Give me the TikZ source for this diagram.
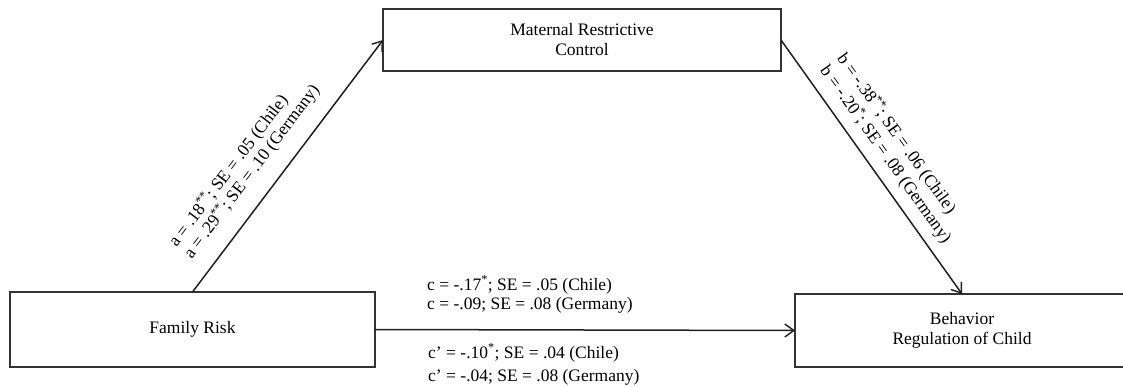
\documentclass[tikz,border=0pt]{standalone}
\usepackage{fontspec}
\setmainfont{Liberation Serif}
\usetikzlibrary{arrows.meta}
\begin{document}
\begin{tikzpicture}[x=1pt,y=1pt,
  box/.style={draw=black!80, line width=1.2pt, rectangle, inner sep=0pt, outer sep=0pt, align=center, font=\fontsize{17.5}{20}\selectfont},
  conn/.style={draw=black!88, line width=1.5pt, -{Straight Barb[length=9pt,width=13pt,line width=1.4pt]}},
  lab/.style={inner sep=0pt, font=\fontsize{17.5}{20}\selectfont}]
\useasboundingbox (0,0) rectangle (1123,386);
\node[box, minimum width=398pt, minimum height=62pt] (MRC) at (582,346) {Maternal Restrictive\\Control};
\node[box, minimum width=365pt, minimum height=75pt] (FR) at (192.5,56.5) {Family Risk};
\node[box, minimum width=334pt, minimum height=73pt] (BR) at (962,55.5) {Behavior\\Regulation of Child};
\draw[conn] (FR.north) -- (MRC.west);
\draw[conn] (MRC.east) -- (BR.north);
\draw[conn] (FR.east) -- (BR.west);
\node[lab, anchor=base west, rotate=52.9] (a1) at (176.6,137.9) {a = .18\textsuperscript{**}; SE = .05 (Chile)};
\node[lab, anchor=base west, rotate=52.9] (a2) at (191.7,126.5) {a = .29\textsuperscript{**}; SE = .10 (Germany)};
\node[lab, anchor=base west, rotate=-54.5] (b1) at (836.5,327.6) {b = -.38\textsuperscript{**}; SE = .06 (Chile)};
\node[lab, anchor=base west, rotate=-54.5] (b2) at (819.6,315.6) {b = -.20\textsuperscript{*}; SE = .08 (Germany)};
\node[lab, anchor=base west] (c1) at (427,96) {c = -.17\textsuperscript{*}; SE = .05 (Chile)};
\node[lab, anchor=base west] (c2) at (427,77) {c = -.09; SE = .08 (Germany)};
\node[lab, anchor=base west] (cp1) at (428,28) {c’ = -.10\textsuperscript{*}; SE = .04 (Chile)};
\node[lab, anchor=base west] (cp2) at (428,5) {c’ = -.04; SE = .08 (Germany)};
\end{tikzpicture}
\end{document}
